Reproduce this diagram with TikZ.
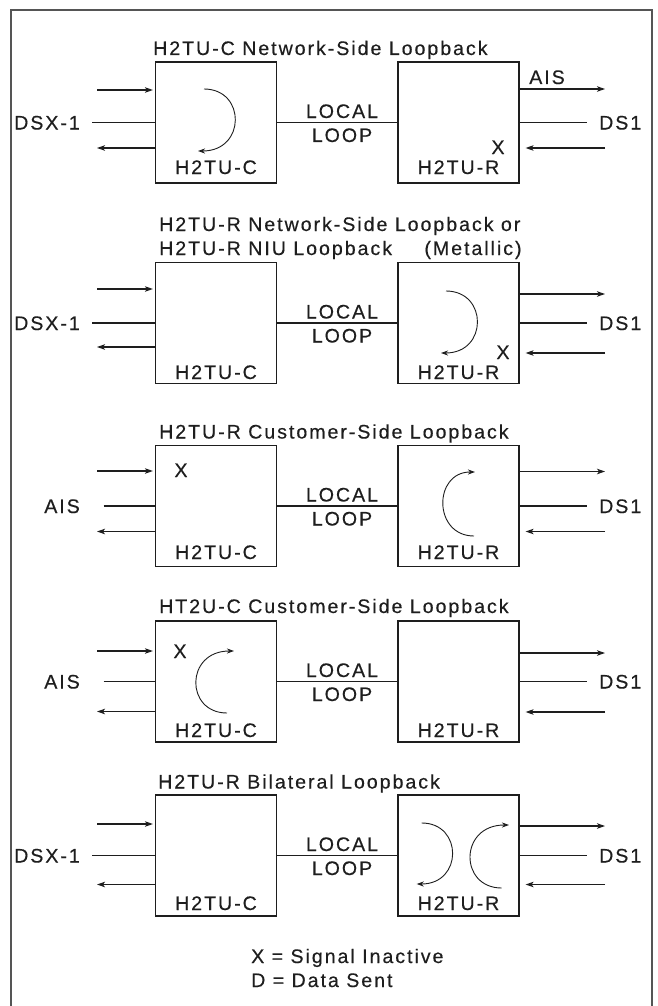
\documentclass[tikz,border=0pt]{standalone}
\usepackage{fontspec}
\setmainfont{Liberation Sans}[LetterSpace=10,FakeBold=0.4]
\usetikzlibrary{arrows.meta}
\definecolor{ink}{HTML}{1E1E1E}
\definecolor{framec}{HTML}{555555}

% #1 id, #2 top of boxes, #3 left-in y, #4 left-out y, #5 right-out y, #6 right-in y, #7 label baseline, #8 left text, #9 left mid line start
\newcommand\mkrow[9]{%
  \node[box] (c#1) at (216,#2+60.5) {};
  \node[box] (r#1) at (458.5,#2+60.5) {};
  \coordinate (li#1) at (97,#3);
  \coordinate (lo#1) at (97,#4);
  \coordinate (lm#1) at (#9,#2+60.5);
  \coordinate (ro#1) at (605,#5);
  \coordinate (ri#1) at (605,#6);
  \coordinate (rm#1) at (587,#2+60.5);
  \draw[arr, shorten >=2pt] (li#1) -- (li#1 -| c#1.west);
  \draw[wire] (lm#1) -- (lm#1 -| c#1.west);
  \draw[arr] (lo#1 -| c#1.west) -- (lo#1);
  \draw[wire] (c#1.east) -- (r#1.west);
  \draw[arr] (ro#1 -| r#1.east) -- (ro#1);
  \draw[wire] (rm#1 -| r#1.east) -- (rm#1);
  \draw[arr, shorten >=6pt] (ri#1) -- (ri#1 -| r#1.east);
  \node[lbl] (lt#1) at (216,#7) {H2TU-C};
  \node[lbl] (rt#1) at (458.5,#7) {H2TU-R};
  \node[lbl] (loc#1) at (342,#2+56) {LOCAL};
  \node[lbl] (lp#1) at (342,#2+80) {LOOP};
  \node[anchor=base east] (lx#1) at (80,#2+67.5) {#8};
  \node[anchor=base west] (ds#1) at (599,#2+67.5) {DS1};
}

\begin{document}
\begin{tikzpicture}[x=1pt,y=-1pt,
  every node/.style={font=\fontsize{19.6}{23}\selectfont, text=ink, inner sep=0pt},
  box/.style={draw=ink, line width=1.2pt, minimum width=121pt, minimum height=121pt},
  wire/.style={draw=ink, line width=1.1pt},
  arr/.style={wire, -{Stealth[length=8pt,width=5.5pt,inset=2pt]}},
  loopc/.style={draw=ink, line width=0.9pt, -{Stealth[length=7pt,width=5pt,inset=2pt]}},
  ttl/.style={anchor=base west},
  lbl/.style={anchor=base},
]
\useasboundingbox (0,0) rectangle (657,1006);
\draw[framec, line width=1.5pt] (11,10) rectangle (652,1015);

% Section 1
\node[ttl] (t1) at (153,55) {H2TU-C Network-Side Loopback};
\mkrow{1}{62}{90}{148}{89}{148}{174}{DSX-1}{92}
\node[lbl] (x1) at (498,154) {X};
\node[lbl] (ais1) at (547,84) {AIS};
\coordinate (a1s) at (204,89);
\coordinate (a1e) at (198,151);
\draw[loopc] (a1s) .. controls (246,89) and (246,151) .. (a1e);

% Section 2
\node[ttl] (t2a) at (159,231) {H2TU-R Network-Side Loopback or};
\node[ttl] (t2b) at (159,255) {H2TU-R NIU Loopback};
\node[lbl] (t2c) at (473,255) {(Metallic)};
\mkrow{2}{262.5}{289}{347}{294}{353}{379}{DSX-1}{92}
\node[lbl] (x2) at (503,359) {X};
\coordinate (a2s) at (446,291);
\coordinate (a2e) at (441,353);
\draw[loopc] (a2s) .. controls (488,291) and (488,353) .. (a2e);

% Section 3
\node[ttl] (t3) at (159,438.5) {H2TU-R Customer-Side Loopback};
\mkrow{3}{445.5}{471}{531.5}{471.5}{531.5}{559}{AIS}{103.5}
\node[lbl] (x3) at (181,477) {X};
\coordinate (a3s) at (474,536);
\coordinate (a3e) at (475,472);
\draw[loopc] (a3s) .. controls (433,536) and (433,472) .. (a3e);

% Section 4
\node[ttl] (t4) at (159,613) {HT2U-C Customer-Side Loopback};
\mkrow{4}{621}{651}{711.5}{653}{712}{737}{AIS}{103.5}
\node[lbl] (x4) at (180,658) {X};
\coordinate (a4s) at (227,713);
\coordinate (a4e) at (234,651);
\draw[loopc] (a4s) .. controls (185,713) and (185,651) .. (a4e);

% Section 5
\node[ttl] (t5) at (158,788.5) {H2TU-R Bilateral Loopback};
\mkrow{5}{795}{824}{884.5}{826}{884.5}{910}{DSX-1}{92}
\coordinate (a5s) at (421.7,823);
\coordinate (a5e) at (416.7,884);
\draw[loopc] (a5s) .. controls (463,823) and (463,884) .. (a5e);
\coordinate (a6s) at (501.7,888);
\coordinate (a6e) at (509,825);
\draw[loopc] (a6s) .. controls (459,888) and (459,825) .. (a6e);

% Legend
\node[ttl] (lg1) at (251,963) {X = Signal Inactive};
\node[ttl] (lg2) at (251,987) {D = Data Sent};
\end{tikzpicture}
\end{document}
